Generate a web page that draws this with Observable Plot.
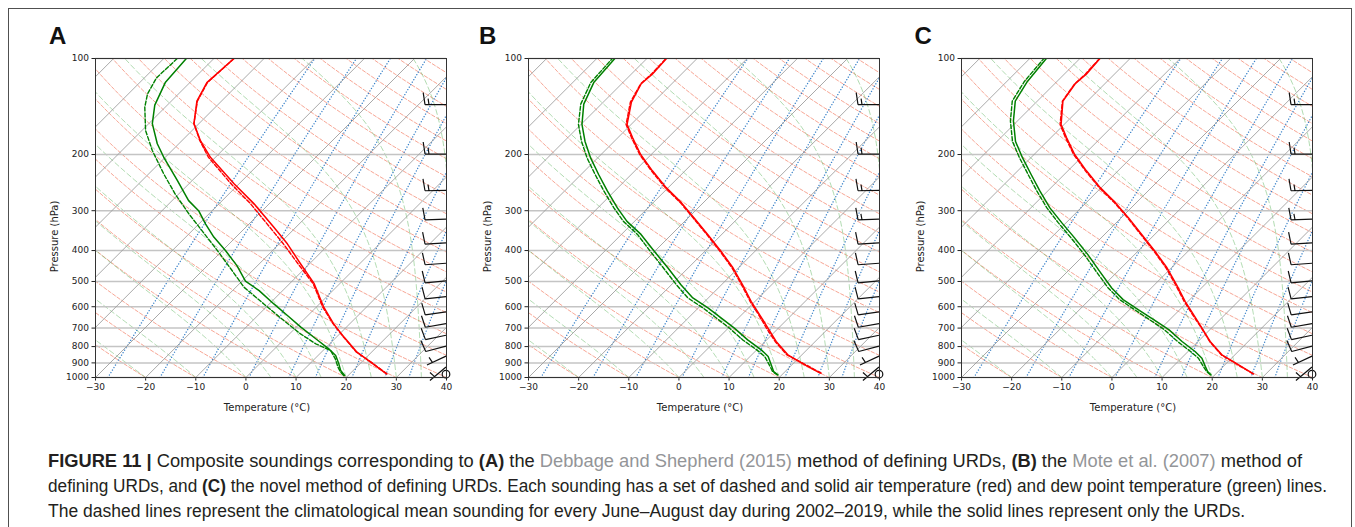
<!DOCTYPE html>
<html><head><meta charset="utf-8">
<script src="https://cdn.jsdelivr.net/npm/d3@7"></script>
<script src="https://cdn.jsdelivr.net/npm/@observablehq/plot@0.6"></script>
<style>
html,body{margin:0;padding:0;background:#fff;}
body{width:1355px;height:527px;overflow:hidden;position:relative;font-family:"Liberation Sans",Arial,sans-serif;}
#frame{position:absolute;left:8px;top:8px;width:1344px;height:700px;border:1.5px solid #505050;box-sizing:border-box;}
.panel{position:absolute;top:0;}
.letter{position:absolute;top:24px;font:bold 24px "Liberation Sans",Arial,sans-serif;line-height:24px;color:#111;}
.cap{position:absolute;left:48px;white-space:nowrap;font-size:17.5px;line-height:25px;color:#231f20;transform-origin:0 50%;}
.cap .g{color:#939598;}
.cap b{font-weight:bold;}
</style></head><body>
<div id="frame"></div>
<div class="panel" id="pA" style="left:0px"></div>
<div class="panel" id="pB" style="left:433px"></div>
<div class="panel" id="pC" style="left:866px"></div>
<div class="letter" style="left:49px">A</div>
<div class="letter" style="left:479px">B</div>
<div class="letter" style="left:914.5px">C</div>
<div class="cap" id="c1" style="top:448.5px"><b>FIGURE 11 |</b> Composite soundings corresponding to <b>(A)</b> the <span class="g">Debbage and Shepherd (2015)</span> method of defining URDs, <b>(B)</b> the <span class="g">Mote et al. (2007)</span> method of</div>
<div class="cap" id="c2" style="top:473.5px">defining URDs, and <b>(C)</b> the novel method of defining URDs. Each sounding has a set of dashed and solid air temperature (red) and dew point temperature (green) lines.</div>
<div class="cap" id="c3" style="top:498.5px">The dashed lines represent the climatological mean sounding for every June–August day during 2002–2019, while the solid lines represent only the URDs.</div>
<script>
// ---------- axis ticks ----------
const xTicks = [-30, -20, -10, 0, 10, 20, 30, 40];
const pTicks = [100, 200, 300, 400, 500, 600, 700, 800, 900, 1000];

// ---------- thermodynamic diagram guide-line parameters ----------
const isothermT = [-100, -90, -80, -70, -60, -50, -40, -30, -20, -10, 0, 10, 20, 30, 40];
const dryAdiabatT0 = [-30, -20, -10, 0, 10, 20, 30, 40, 50, 60, 70, 80, 90, 100, 110, 120, 130, 140, 150, 160, 170, 180, 190, 200, 210, 220, 230, 240];
const moistAdiabatT0 = [-30, -20, -10, 0, 5, 10, 15, 20, 25, 30, 35, 40];
const mixingRatios = [0.0004, 0.001, 0.002, 0.004, 0.007, 0.01, 0.016, 0.024, 0.032];

// ---------- Panel A soundings (hPa, °C) ----------
const aTurdP  = [974, 895, 833, 747, 679, 602, 508, 440, 381, 338, 285, 247, 204, 181, 160, 136, 119, 100];
const aTurdT  = [27.3, 21.8, 17.1, 11.5, 6.8, 1.5, -5.1, -11.8, -18.4, -24.4, -33.1, -41.0, -51.0, -56.3, -61.0, -64.9, -66.6, -66.0];
const aTclimP = [974, 895, 833, 747, 679, 602, 508, 440, 381, 338, 285, 247, 204, 181, 160, 136, 119, 100];
const aTclimT = [27.4, 21.9, 17.0, 11.4, 6.7, 1.3, -5.3, -12.3, -19.2, -25.2, -33.8, -41.6, -51.4, -56.4, -61.0, -64.8, -66.5, -66.0];
const aTdurdP = [986, 951, 906, 853, 813, 756, 695, 639, 588, 534, 499, 446, 400, 363, 330, 300, 279, 241, 204, 185, 160, 140, 119, 100];
const aTdurdT = [19.3, 17.5, 15.8, 13.5, 10.8, 6.2, 0.9, -4.1, -9.1, -14.7, -19.3, -24.1, -29.4, -34.4, -38.7, -42.7, -46.7, -53.0, -60.3, -64.3, -69.3, -72.5, -74.9, -75.5];
const aTdclimP = [986, 962, 928, 874, 823, 784, 730, 663, 588, 521, 462, 400, 354, 307, 266, 230, 194, 168, 142, 129, 115, 100];
const aTdclimT = [19.1, 17.8, 16.3, 14.1, 11.5, 7.2, 2.2, -3.8, -11.1, -18.4, -24.1, -31.0, -37.0, -44.0, -50.7, -57.0, -64.0, -69.3, -74.1, -76.2, -77.6, -77.3];

// ---------- Panel B soundings ----------
const bTurdP  = [969, 901, 849, 771, 700, 636, 577, 512, 453, 402, 356, 316, 283, 254, 225, 200, 177, 161, 137, 120, 112, 100];
const bTurdT  = [27.3, 21.6, 17.2, 12.2, 7.9, 3.6, -0.8, -5.8, -11.1, -16.8, -22.8, -28.8, -34.4, -40.4, -46.5, -52.1, -57.1, -60.8, -64.4, -66.1, -65.8, -66.1];
const bTclimP = [969, 901, 849, 771, 700, 636, 577, 512, 453, 402, 356, 316, 283, 254, 225, 200, 177, 161, 137, 120, 112, 100];
const bTclimT = [27.5, 21.8, 17.0, 12.0, 7.6, 3.4, -1.0, -6.0, -11.3, -17.0, -23.0, -29.0, -34.6, -40.6, -46.7, -52.3, -57.3, -61.0, -64.6, -66.2, -66.0, -66.2];
const bTdurdP = [981, 958, 913, 859, 819, 762, 700, 651, 605, 563, 512, 453, 402, 356, 324, 294, 260, 231, 205, 182, 161, 139, 119, 100];
const bTdurdT = [19.2, 17.7, 15.9, 13.6, 10.9, 6.2, 1.2, -3.4, -8.1, -13.1, -18.1, -24.1, -30.1, -36.1, -41.5, -46.1, -51.5, -56.5, -61.4, -65.8, -69.8, -73.5, -75.8, -76.4];
const bTdclimP = [981, 958, 913, 859, 819, 762, 700, 651, 605, 563, 512, 453, 402, 356, 324, 294, 260, 231, 205, 182, 161, 139, 119, 100];
const bTdclimT = [19.1, 17.5, 15.5, 12.9, 10.0, 5.2, 0.2, -4.4, -9.1, -14.1, -19.0, -25.0, -30.9, -36.8, -42.2, -46.8, -52.2, -57.2, -62.1, -66.5, -70.5, -74.1, -76.4, -76.9];

// ---------- Panel C soundings ----------
const cTurdP  = [974, 901, 849, 771, 700, 636, 577, 512, 453, 402, 356, 316, 283, 254, 225, 200, 177, 161, 136, 120, 112, 100];
const cTurdT  = [27.5, 21.8, 17.4, 12.4, 8.1, 3.8, -0.6, -5.6, -10.9, -16.6, -22.6, -28.5, -34.2, -40.2, -46.3, -51.9, -56.9, -60.6, -64.9, -65.9, -65.6, -66.0];
const cTclimP = [974, 901, 849, 771, 700, 636, 577, 512, 453, 402, 356, 316, 283, 254, 225, 200, 177, 161, 136, 120, 112, 100];
const cTclimT = [27.4, 21.7, 17.3, 12.3, 8.0, 3.6, -0.8, -5.8, -11.1, -16.8, -22.8, -28.7, -34.4, -40.4, -46.5, -52.1, -57.1, -60.8, -65.0, -66.0, -65.8, -66.1];
const cTdurdP = [981, 958, 923, 870, 829, 771, 708, 659, 613, 570, 524, 465, 412, 365, 327, 294, 260, 231, 205, 182, 157, 136, 118, 100];
const cTdurdT = [19.2, 17.9, 16.4, 14.1, 11.4, 6.8, 1.8, -3.2, -8.3, -13.3, -17.9, -23.6, -29.3, -35.3, -40.9, -46.2, -51.6, -56.6, -61.6, -66.3, -70.8, -74.4, -75.9, -76.7];
const cTdclimP = [981, 958, 923, 870, 829, 771, 708, 659, 613, 570, 524, 465, 412, 365, 327, 294, 260, 231, 205, 182, 157, 136, 118, 100];
const cTdclimT = [19.1, 17.7, 16.0, 13.4, 10.5, 5.9, 0.9, -4.0, -9.0, -14.0, -18.6, -24.3, -30.0, -36.0, -41.6, -46.8, -52.2, -57.2, -62.2, -66.9, -71.4, -75.0, -76.5, -77.2];

// ---------- wind barbs ----------
const windP = [140, 200, 260, 320, 380, 440, 500, 560, 625, 680, 740, 800, 860, 930];
const windDir = [270, 270, 269, 268, 267, 266, 265, 264, 262, 260, 258, 255, 245, 230];
const windSpdA = [15, 15, 15, 10, 10, 10, 10, 10, 10, 10, 10, 10, 5, 5];
const windSpdBC = [15, 15, 15, 15, 10, 10, 10, 10, 10, 10, 10, 10, 5, 5];
const calmP = [980];

// ---------- geometry ----------
const W = 460, H = 420, ML = 95, MR = 14, MT = 58, MB = 43;
const SKEW = (H - MT - MB) / ((W - ML - MR) / 70); // isotherms at 45°
const skewX = (T, p) => T + SKEW * Math.log10(1000 / p);

// ---------- guide lines ----------
const Rd = 287.04749, Lv = 2.50084e6, Cp = 1004.666, EPS = 0.6219569;
const esat = T => 6.112 * Math.exp(17.67 * (T - 273.15) / (T - 29.65));
function dTdp(p, T) {
  const es = esat(T); const rs = EPS * es / (p - es);
  return (Rd * T + Lv * rs) / (Cp + Lv * Lv * rs * EPS / (Rd * T * T)) / p;
}
const pLevels = d3.range(0, 61).map(i => 1000 * Math.pow(10, -i / 60));

const isoRows = [];
isothermT.forEach((T, k) => [1000, 100].forEach(p => isoRows.push({k, p, x: skewX(T, p)})));

const dryRows = [];
dryAdiabatT0.forEach((t0, k) => pLevels.forEach(p => {
  const T = (t0 + 273.15) * Math.pow(p / 1000, Rd / Cp) - 273.15;
  dryRows.push({k, p, x: skewX(T, p)});
}));

const moistRows = [];
moistAdiabatT0.forEach((t0, k) => {
  let T = t0 + 273.15, p = 1000;
  moistRows.push({k, p, x: skewX(T - 273.15, p)});
  while (p > 100.001) {
    const h = Math.max(-5, 100 - p);
    const k1 = dTdp(p, T), k2 = dTdp(p + h / 2, T + h / 2 * k1), k3 = dTdp(p + h / 2, T + h / 2 * k2), k4 = dTdp(p + h, T + h * k3);
    T += h / 6 * (k1 + 2 * k2 + 2 * k3 + k4); p += h;
    moistRows.push({k, p, x: skewX(T - 273.15, p)});
  }
});

const mixRows = [];
mixingRatios.forEach((w, k) => pLevels.forEach(p => {
  const e = w * p / (EPS + w); const l = Math.log(e / 6.112);
  const Td = 243.5 * l / (17.67 - l);
  mixRows.push({k, p, x: skewX(Td, p)});
}));

function rows(P, T) { return P.map((p, i) => ({p, x: skewX(T[i], p)})); }

function barbMark(speeds) {
  return (index, scales) => {
    const g = d3.create("svg:g").attr("fill", "none").attr("stroke", "#111").attr("stroke-width", 1.2);
    const L = 21, FH = 12, SP = 4;
    const sx = scales.x(40);
    windP.forEach((p, i) => {
      const sy = scales.y(p);
      const a = windDir[i] * Math.PI / 180;
      const ux = Math.sin(a), uy = -Math.cos(a);
      const fx = -uy, fy = ux;
      const ex = sx + L * ux, ey = sy + L * uy;
      let d = `M${sx},${sy}L${ex},${ey}`;
      const spd = speeds[i], full = Math.floor(spd / 10), half = (spd % 10) >= 5;
      let off = 0;
      for (let k = 0; k < full; k++) {
        const bx = ex - ux * off, by = ey - uy * off;
        d += `M${bx},${by}L${bx + fx * FH + ux * 1.8},${by + fy * FH + uy * 1.8}`;
        off += SP;
      }
      if (half) {
        if (full === 0) off = 1.5 * SP;
        const bx = ex - ux * off, by = ey - uy * off;
        d += `M${bx},${by}L${bx + fx * FH / 2 + ux * 0.9},${by + fy * FH / 2 + uy * 0.9}`;
      }
      g.append("path").attr("d", d);
    });
    calmP.forEach(p => g.append("circle").attr("cx", sx).attr("cy", scales.y(p)).attr("r", 3.8));
    return g.node();
  };
}

function panel(s) {
  return Plot.plot({
    width: W, height: H, marginLeft: ML, marginRight: MR, marginTop: MT, marginBottom: MB,
    style: {fontFamily: "DejaVu Sans", fontSize: "9px", color: "#222", background: "transparent", overflow: "visible"},
    x: {domain: [-30, 40], ticks: xTicks, tickSize: 3.5, tickPadding: 3, label: null},
    y: {type: "log", domain: [1000, 100], ticks: pTicks, tickFormat: d => String(d), tickSize: 3.5, tickPadding: 3, label: null},
    marks: [
      Plot.line(dryRows, {x: "x", y: "p", z: "k", stroke: "#f26b4e", strokeOpacity: 0.6, strokeWidth: 1, strokeDasharray: "3.5,2", clip: true}),
      Plot.line(moistRows, {x: "x", y: "p", z: "k", stroke: "#63b863", strokeOpacity: 0.5, strokeWidth: 1, strokeDasharray: "5,3", clip: true}),
      Plot.line(mixRows, {x: "x", y: "p", z: "k", stroke: "#2f7bc6", strokeOpacity: 0.95, strokeWidth: 1.4, strokeDasharray: "0.01,2.9", strokeLinecap: "round", clip: true}),
      Plot.ruleY(pTicks, {stroke: "#c4c4c4", strokeWidth: 1.5}),
      Plot.line(isoRows, {x: "x", y: "p", z: "k", stroke: "#999", strokeWidth: 0.85, clip: true}),
      Plot.line(rows(s.Tc[0], s.Tc[1]), {x: "x", y: "p", stroke: "#ff0000", strokeWidth: 1.4, strokeDasharray: "4,2", clip: true}),
      Plot.line(rows(s.T[0], s.T[1]), {x: "x", y: "p", stroke: "#ff0000", strokeWidth: 1.5, clip: true}),
      Plot.line(rows(s.Tdc[0], s.Tdc[1]), {x: "x", y: "p", stroke: "#008000", strokeWidth: 1.4, strokeDasharray: "4,2", clip: true}),
      Plot.line(rows(s.Td[0], s.Td[1]), {x: "x", y: "p", stroke: "#008000", strokeWidth: 1.5, clip: true}),
      barbMark(s.spd),
      Plot.frame({stroke: "#333", strokeWidth: 1}),
      Plot.text(["Temperature (°C)"], {text: d => d, frameAnchor: "bottom", lineAnchor: "middle", textAnchor: "middle", dy: 30, dx: -4, fontSize: 10, fill: "#222"}),
      Plot.text(["Pressure (hPa)"], {text: d => d, frameAnchor: "left", lineAnchor: "middle", textAnchor: "middle", rotate: -90, dx: -41, dy: 18.5, fontSize: 10, fill: "#222"})
    ]
  });
}

const specs = [
  {el: "pA", T: [aTurdP, aTurdT], Tc: [aTclimP, aTclimT], Td: [aTdurdP, aTdurdT], Tdc: [aTdclimP, aTdclimT], spd: windSpdA},
  {el: "pB", T: [bTurdP, bTurdT], Tc: [bTclimP, bTclimT], Td: [bTdurdP, bTdurdT], Tdc: [bTdclimP, bTdclimT], spd: windSpdBC},
  {el: "pC", T: [cTurdP, cTurdT], Tc: [cTclimP, cTclimT], Td: [cTdurdP, cTdurdT], Tdc: [cTdclimP, cTdclimT], spd: windSpdBC}
];
specs.forEach(s => document.getElementById(s.el).appendChild(panel(s)));

// fit caption lines to the reference line lengths
const capWidths = {c1: 1254, c2: 1279, c3: 1197};
Object.entries(capWidths).forEach(([id, w]) => {
  const el = document.getElementById(id);
  const cw = el.getBoundingClientRect().width;
  el.style.transform = `scaleX(${w / cw})`;
});
</script>
</body></html>
